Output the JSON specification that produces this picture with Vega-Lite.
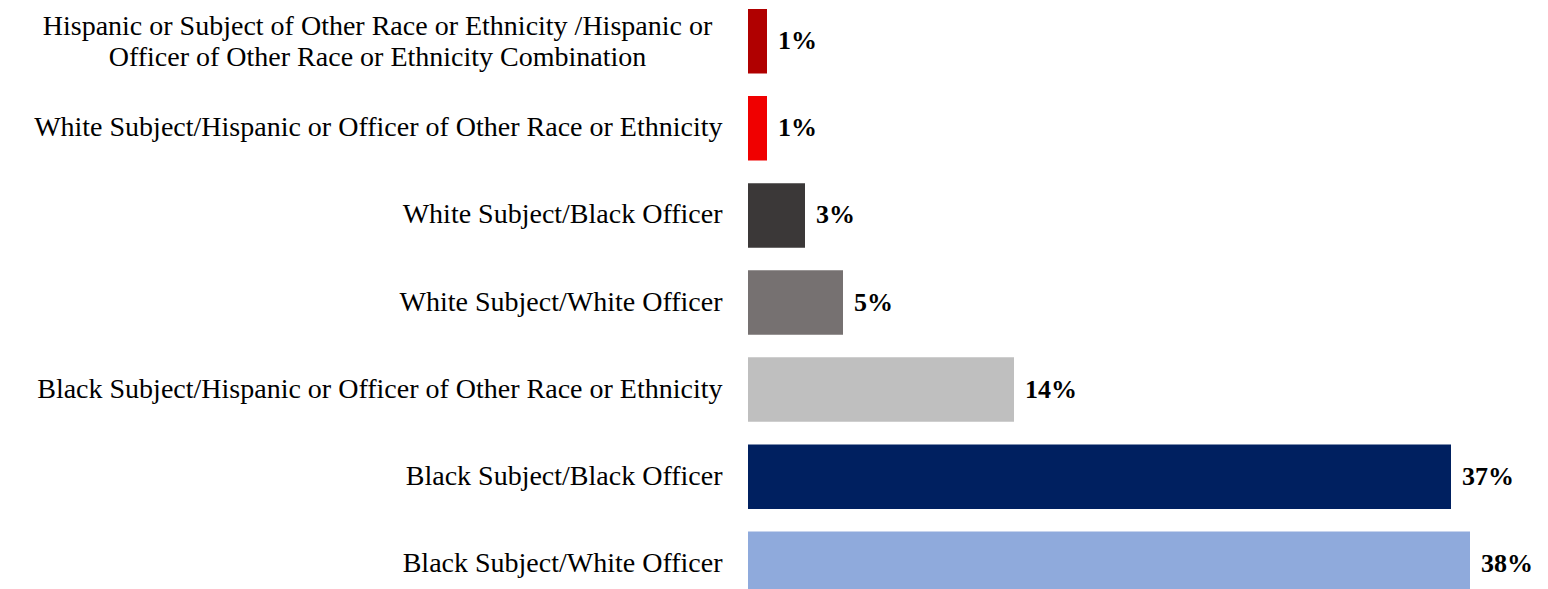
{
  "$schema": "https://vega.github.io/schema/vega-lite/v6.json",
  "width": 760,
  "height": 589,
  "autosize": "none",
  "padding": {"left": 748, "top": 0, "right": 40, "bottom": 0},
  "background": "white",
  "config": {"view": {"stroke": null}},
  "data": {
    "values": [
      {"group": "Hispanic or Subject of Other Race or Ethnicity /Hispanic or|Officer of Other Race or Ethnicity Combination", "pct": 1, "label": "1%"},
      {"group": "White Subject/Hispanic or Officer of Other Race or Ethnicity", "pct": 1, "label": "1%"},
      {"group": "White Subject/Black Officer", "pct": 3, "label": "3%"},
      {"group": "White Subject/White Officer", "pct": 5, "label": "5%"},
      {"group": "Black Subject/Hispanic or Officer of Other Race or Ethnicity", "pct": 14, "label": "14%"},
      {"group": "Black Subject/Black Officer", "pct": 37, "label": "37%"},
      {"group": "Black Subject/White Officer", "pct": 38, "label": "38%"}
    ]
  },
  "encoding": {
    "y": {
      "field": "group",
      "type": "nominal",
      "sort": null,
      "scale": {"range": [0, 605], "paddingInner": 0.26, "paddingOuter": 0.1033},
      "axis": {
        "title": null,
        "domain": false,
        "ticks": false,
        "labelLimit": 0,
        "labelFont": "Liberation Serif",
        "labelFontSize": 28,
        "labelColor": "#000000",
        "labelLineHeight": 31,
        "labelExpr": "split(datum.label, '|')",
        "labelAlign": {"condition": {"test": "indexof(datum.value, '|') >= 0", "value": "center"}, "value": "right"},
        "labelPadding": {"condition": {"test": "indexof(datum.value, '|') >= 0", "value": 371}, "value": 26},
        "labelOffset": {"condition": {"test": "indexof(datum.value, '|') >= 0", "value": -14}, "value": 0}
      }
    },
    "x": {"field": "pct", "type": "quantitative", "scale": {"domain": [0, 40]}, "axis": null}
  },
  "layer": [
    {
      "mark": {"type": "bar"},
      "encoding": {
        "color": {
          "field": "group",
          "type": "nominal",
          "scale": {
            "domain": [
              "Hispanic or Subject of Other Race or Ethnicity /Hispanic or|Officer of Other Race or Ethnicity Combination",
              "White Subject/Hispanic or Officer of Other Race or Ethnicity",
              "White Subject/Black Officer",
              "White Subject/White Officer",
              "Black Subject/Hispanic or Officer of Other Race or Ethnicity",
              "Black Subject/Black Officer",
              "Black Subject/White Officer"
            ],
            "range": ["#B00000", "#F00000", "#3B3838", "#767171", "#BFBFBF", "#002060", "#8FAADC"]
          },
          "legend": null
        }
      }
    },
    {
      "mark": {"type": "text", "align": "left", "baseline": "middle", "dx": 11, "font": "Liberation Serif", "fontWeight": "bold", "fontSize": 26, "color": "#000000"},
      "encoding": {"text": {"field": "label"}}
    }
  ]
}
